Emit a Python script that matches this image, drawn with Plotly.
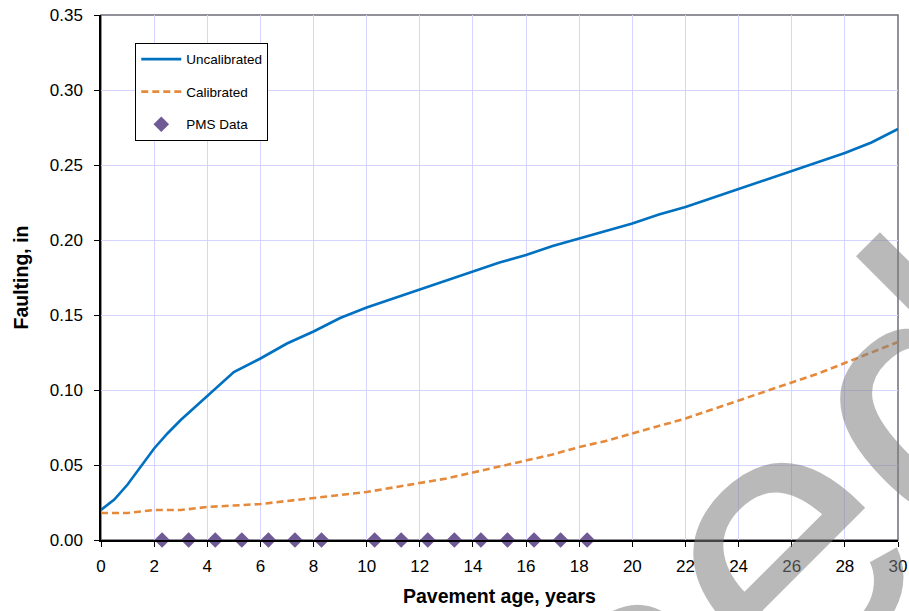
import plotly.graph_objects as go

# Pavement age (years) for the model curves
age = [0, 0.5, 1, 1.5, 2, 2.5, 3, 3.5, 4, 5, 6, 7, 8, 9, 10, 11, 12, 13, 14, 15,
       16, 17, 18, 19, 20, 21, 22, 23, 24, 25, 26, 27, 28, 29, 30]
uncalibrated = [0.020, 0.027, 0.037, 0.049, 0.061, 0.071, 0.080, 0.088, 0.096, 0.112,
                0.121, 0.131, 0.139, 0.148, 0.155, 0.161, 0.167, 0.173, 0.179, 0.185,
                0.190, 0.196, 0.201, 0.206, 0.211, 0.217, 0.222, 0.228, 0.234, 0.240,
                0.246, 0.252, 0.258, 0.265, 0.274]
calibrated = [0.018, 0.018, 0.018, 0.019, 0.020, 0.020, 0.020, 0.021, 0.022, 0.023,
              0.024, 0.026, 0.028, 0.030, 0.032, 0.035, 0.038, 0.041, 0.045, 0.049,
              0.053, 0.057, 0.062, 0.066, 0.071, 0.076, 0.081, 0.087, 0.093, 0.099,
              0.105, 0.111, 0.118, 0.125, 0.132]

pms_age = [2.3, 3.3, 4.3, 5.3, 6.3, 7.3, 8.3, 10.3, 11.3, 12.3, 13.3, 14.3,
           15.3, 16.3, 17.3, 18.3]
pms_faulting = [0.0] * len(pms_age)

font = "Liberation Sans, Arial, sans-serif"

fig = go.Figure()
fig.add_trace(go.Scatter(x=age, y=uncalibrated, mode="lines", name="Uncalibrated",
                         legendgroup="a", line=dict(color="#0070C0", width=2.6)))
fig.add_trace(go.Scatter(x=age, y=calibrated, mode="lines", name="Calibrated",
                         legendgroup="b",
                         line=dict(color="#E5893B", width=2.6, dash="7px,4px")))
fig.add_trace(go.Scatter(x=pms_age, y=pms_faulting, mode="markers", name="PMS Data",
                         legendgroup="c", cliponaxis=False,
                         marker=dict(symbol="diamond", size=12, color="#705A96")))

# plot area frame (top / right edges are grey)
fig.add_shape(type="rect", xref="paper", yref="paper", x0=0, y0=0, x1=1, y1=1,
              line=dict(color="#6E6E78", width=1.5), layer="below")

# watermark
fig.add_annotation(text="sed", xref="paper", yref="paper", x=0.8535, y=0.0076,
                   xanchor="center", yanchor="middle", textangle=-45, showarrow=False,
                   font=dict(family=font, size=385, color="rgba(128,128,128,0.55)"))

fig.update_layout(
    width=909, height=611,
    margin=dict(l=101, r=11, t=15, b=71),
    plot_bgcolor="white", paper_bgcolor="white",
    font=dict(family=font, size=17, color="black"),
    showlegend=True,
    legend=dict(x=0.043, y=0.947, xanchor="left", yanchor="top",
                bordercolor="black", borderwidth=1, bgcolor="white",
                font=dict(size=13.5), tracegroupgap=12, itemwidth=40),
    xaxis=dict(range=[0, 30], dtick=2, tick0=0, showgrid=True, gridcolor="#D4D4FF",
               gridwidth=1, showline=True, linecolor="black", linewidth=1.5,
               ticks="outside", ticklen=5, tickcolor="black", zeroline=False,
               automargin=False, ticklabelstandoff=5,
               title=dict(text="<b>Pavement age, years</b>", font=dict(size=19.5), standoff=14)),
    yaxis=dict(range=[0, 0.35], dtick=0.05, tickformat=".2f", showgrid=True,
               gridcolor="#D4D4FF", gridwidth=1, showline=True, linecolor="black",
               linewidth=1.5, ticks="outside", ticklen=5, tickcolor="black",
               zeroline=False, automargin=False, ticklabelstandoff=8,
               title=dict(text="<b>Faulting, in</b>", font=dict(size=19.5), standoff=16)),
)

fig.write_html("out.html", config={"displayModeBar": False},
               post_script="document.body.style.margin='0';")
